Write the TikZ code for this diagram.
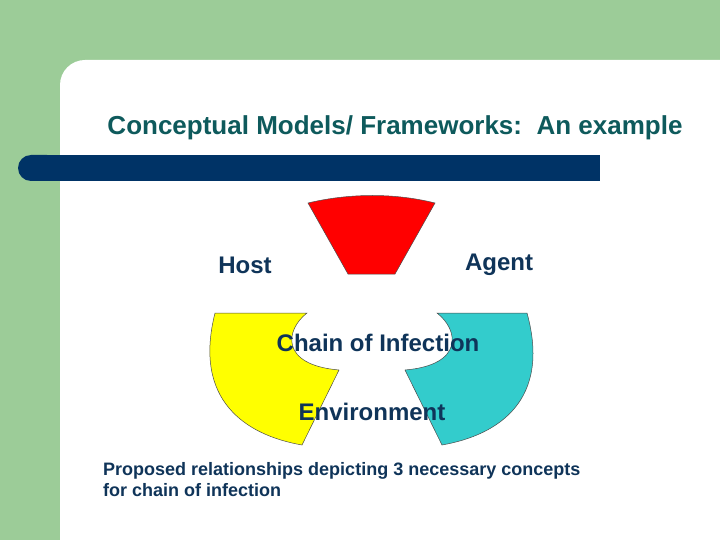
\documentclass[tikz,border=0pt]{standalone}
\usepackage{fontspec}
\setmainfont{Liberation Sans}
\usepackage{tikz}
\definecolor{slidegreen}{HTML}{9CCC98}
\definecolor{barblue}{HTML}{003366}
\definecolor{textblue}{HTML}{0F3459}
\definecolor{titleteal}{HTML}{0E5A5C}
\definecolor{segred}{HTML}{FF0000}
\definecolor{segyellow}{HTML}{FFFF00}
\definecolor{segcyan}{HTML}{33CCCC}
\tikzset{
  label text/.style={text=textblue,font=\bfseries\fontsize{24}{27}\selectfont,inner sep=0pt},
  segment/.style={draw=black!70,line width=0.5pt}
}
\begin{document}
\begin{tikzpicture}[x=1pt,y=-1pt]
\useasboundingbox (0,0) rectangle (720,540);
\begin{scope}

% background
\path[fill=slidegreen] (0,0) rectangle (720,540);
\path[fill=white,rounded corners=25pt] (60,60) rectangle (760,580);
\path[fill=barblue,rounded corners=13pt] (18,155) rectangle (60,181);
\path[fill=barblue] (40,155) rectangle (600,181);

\path[segment,fill=segred]% top
(308,203) .. controls (350,193) and (395,193) .. (435,203)--(395,274)--(348,274)--cycle;
\path[segment,fill=segyellow]% left
(215,313)--(307,313) .. controls (285,330) and (280,365) .. (339,370)--(302,445)
.. controls (245,435) and (193,400) .. (215,313)--cycle;
\path[segment,fill=segcyan]% right
(527,313)--(437,313) .. controls (459,330) and (464,365) .. (405,370)--(442,445)
.. controls (499,435) and (551,400) .. (527,313)--cycle;

\node[label text,text=titleteal,font=\bfseries\fontsize{26}{29}\selectfont] (title) at (395,128) {Conceptual Models/ Frameworks:\ \ An example};
\node[label text] (host) at (245,265) {Host};
\node[label text] (agent) at (499,265) {Agent};
\node[label text] (chain) at (378,343) {Chain of Infection};
\node[label text] (env) at (372,412) {Environment};
\node[label text,font=\bfseries\fontsize{18}{21}\selectfont,align=left,anchor=north west] (caption) at (103,462)
  {Proposed relationships depicting 3 necessary concepts\\for chain of infection};

\end{scope}
\end{tikzpicture}
\end{document}
